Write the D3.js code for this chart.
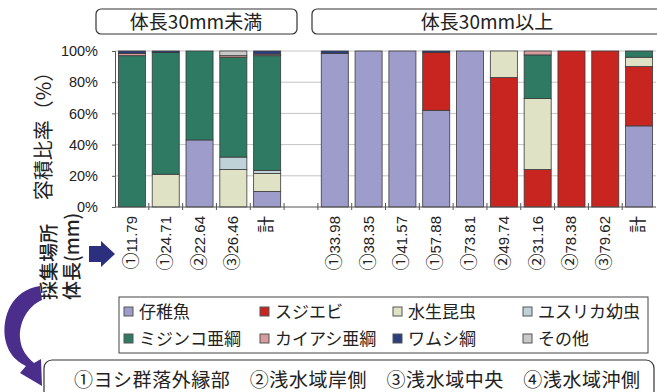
<!DOCTYPE html>
<html><head><meta charset="utf-8">
<script src="https://cdn.jsdelivr.net/npm/d3@7"></script>
<style>
html,body{margin:0;padding:0;background:#fff;}
svg{display:block;font-family:"Noto Sans CJK JP","Liberation Sans",sans-serif;}
</style></head>
<body><svg id="c" width="657" height="392"></svg>
<script>
// Categories: sampling site + body length (mm); "" is a spacer between groups
const categories = ["①11.79","①24.71","②22.64","③26.46","計","",
  "①33.98","①38.35","①41.57","①57.88","①73.81","②49.74","②31.16","②78.38","③79.62","計"];
const seriesNames = ["仔稚魚","スジエビ","水生昆虫","ユスリカ幼虫","ミジンコ亜綱","カイアシ亜綱","ワムシ綱","その他"];
const seriesColors = ["#9d9cca","#c82520","#e0e2c5","#bfd2d8","#2e7a63","#d79b9b","#2a3f7c","#c9c9c9"];
// Volume share (%) per series, one value per category
const fry        = [0, 0, 43, 0, 10,   0, 98.5,100,100,62,100,  0, 0,  0,  0, 52];
const shrimp     = [0, 0, 0,  0, 0,    0, 0,   0,  0,  37, 0,  83, 24,100,100,38];
const insects    = [0, 21,0,  24,11.5, 0, 0,   0,  0,  0,  0,  17, 45.5,0, 0, 6];
const chironomid = [0, 0, 0,  8, 2,    0, 0,   0,  0,  0,  0,  0,  0,  0,  0,  0];
const cladocera  = [97,78,57, 64,73.5, 0, 0,   0,  0,  0,  0,  0,  28, 0,  0,  4];
const copepoda   = [1.5,0,0,  1, 1,    0, 0,   0,  0,  0,  0,  0,  2.5,0, 0,  0];
const rotifera   = [1.5,1,0,  0, 2,    0, 1.5, 0,  0,  1,  0,  0,  0,  0,  0,  0];
const others     = [0, 0, 0,  3, 0,    0, 0,   0,  0,  0,  0,  0,  0,  0,  0,  0];
const yTicks = [0,20,40,60,80,100];
const siteNote = "①ヨシ群落外縁部　②浅水域岸側　③浅水域中央　④浅水域沖側";

const seriesValues = [fry,shrimp,insects,chironomid,cladocera,copepoda,rotifera,others];
const rows = categories.map((c,i)=>{
  const r = {id:i, label:c};
  seriesNames.forEach((s,k)=>{ r[s] = seriesValues[k][i]; });
  return r;
});

const svg = d3.select("#c");
const m = {l:115, r:656, t:51, b:207};
const x = d3.scaleBand().domain(rows.map(d=>d.id)).range([m.l,m.r]).paddingInner(0.2).paddingOuter(0.1);
const y = d3.scaleLinear().domain([0,100]).range([m.b,m.t]);
const color = d3.scaleOrdinal().domain(seriesNames).range(seriesColors);

// gridlines
svg.append("g").selectAll("line").data(yTicks.filter(t=>t>0)).join("line")
  .attr("x1",m.l).attr("x2",m.r).attr("y1",d=>y(d)).attr("y2",d=>y(d))
  .attr("stroke","#c4c4c4").attr("stroke-width",1);

// stacked bars
const stacked = d3.stack().keys(seriesNames)(rows);
svg.append("g").selectAll("g").data(stacked).join("g")
  .attr("fill",d=>color(d.key))
  .selectAll("rect").data(d=>d.filter(p=>p[1]-p[0]>0)).join("rect")
  .attr("x",d=>x(d.data.id)).attr("width",x.bandwidth())
  .attr("y",d=>y(d[1])).attr("height",d=>y(d[0])-y(d[1]))
  .attr("stroke","#3a3a3a").attr("stroke-width",0.8);

// axes
const yAxis = svg.append("g").attr("transform",`translate(${m.l},0)`)
  .call(d3.axisLeft(y).tickValues(yTicks).tickFormat(d=>d+"%").tickSize(3).tickPadding(14));
yAxis.select(".domain").attr("stroke","#555");
yAxis.selectAll("text").attr("font-family","Liberation Sans, Arial, sans-serif").attr("font-size",14.5).attr("fill","#222");
yAxis.selectAll("line").attr("stroke","#555");

svg.append("line").attr("x1",m.l).attr("x2",m.r).attr("y1",m.b).attr("y2",m.b).attr("stroke","#555");
const step = x.step();
svg.append("g").selectAll("line").data(rows.slice(1)).join("line")
  .attr("x1",d=>x(d.id)-step*0.1).attr("x2",d=>x(d.id)-step*0.1)
  .attr("y1",m.b-4).attr("y2",m.b+3).attr("stroke","#555");

// category labels (rotated): circled site number + body length
const lab = svg.append("g").selectAll("text").data(rows.filter(d=>d.label)).join("text")
  .attr("transform",d=>`translate(${x(d.id)+x.bandwidth()/2+5},216) rotate(-90)`)
  .attr("text-anchor","end")
  .attr("font-size",15).attr("fill","#222");
lab.append("tspan").attr("font-family","Noto Sans CJK JP, sans-serif").attr("font-size",17)
  .text(d=>d.label.charAt(0));
lab.append("tspan").attr("font-family","Liberation Sans, Arial, sans-serif")
  .text(d=>d.label.slice(1));

// y title
svg.append("text").attr("transform","translate(51,131) rotate(-90)")
  .attr("text-anchor","middle").attr("font-size",20).attr("fill","#222")
  .text("容積比率（%）");

// group headers
function header(x0,x1,label,cx){
  svg.append("rect").attr("x",x0).attr("y",9).attr("width",x1-x0).attr("height",25).attr("rx",5)
    .attr("fill","#fff").attr("stroke","#333").attr("stroke-width",1.2);
  svg.append("text").attr("x",cx).attr("y",28.5).attr("text-anchor","middle")
    .attr("font-size",19).attr("fill","#222").text(label);
}
header(96,297,"体長30mm未満",196);
header(312,672,"体長30mm以上",487);

// axis side captions
svg.append("text").attr("transform","translate(56,300) rotate(-90)").attr("text-anchor","start")
  .attr("font-size",19).attr("font-weight",500).attr("fill","#222").text("採集場所");
svg.append("text").attr("transform","translate(79,300) rotate(-90)").attr("text-anchor","start")
  .attr("font-size",19).attr("font-weight",500).attr("fill","#222").text("体長(mm)");

// blue arrow toward the labels
svg.append("path").attr("d","M89,246 L101,246 L101,241 L115,254 L101,267 L101,262 L89,262 Z")
  .attr("fill","#2b2f7e");

// curved purple arrow toward the site note
svg.append("path")
  .attr("d","M40,286 C12,290 2,316 5,338 C8,355 18,362 26,366 L20,373 L42,386 L41,359 L34,363 C27,357 21,350 20,338 C19,322 28,306 42,300 Z")
  .attr("fill","#4b2e8c");

// legend
svg.append("rect").attr("x",119).attr("y",297).attr("width",529).attr("height",56)
  .attr("fill","#fff").attr("stroke","#444").attr("stroke-width",1);
const lx = [124,260,393,523];
const legend = svg.append("g").selectAll("g").data(seriesNames).join("g")
  .attr("transform",(d,i)=>`translate(${lx[i%4]},${i<4?312:339})`);
legend.append("rect").attr("x",0).attr("y",-5).attr("width",9).attr("height",9)
  .attr("fill",d=>color(d)).attr("stroke","#555").attr("stroke-width",1);
legend.append("text").attr("x",15).attr("y",6).attr("font-size",17).attr("fill","#222").text(d=>d);

// site note box
svg.append("rect").attr("x",44).attr("y",360).attr("width",610).attr("height",50).attr("rx",8)
  .attr("fill","#fff").attr("stroke","#333").attr("stroke-width",1.2);
svg.append("text").attr("x",74).attr("y",387).attr("font-size",19).attr("fill","#222")
  .attr("textLength",566).attr("lengthAdjust","spacing").text(siteNote);
</script></body></html>
